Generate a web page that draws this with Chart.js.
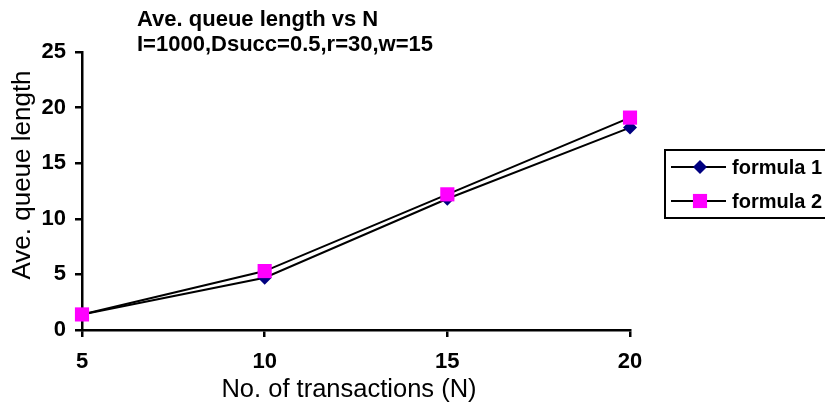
<!DOCTYPE html>
<html>
<head>
<meta charset="utf-8">
<script src="https://cdn.jsdelivr.net/npm/chart.js@4"></script>
<style>
  html, body { margin: 0; padding: 0; background: #fff; }
  #wrap { width: 825px; height: 405px; position: relative; }
</style>
</head>
<body>
<div id="wrap"><canvas id="c" width="825" height="405"></canvas></div>
<script>
const categories = [5, 10, 15, 20];
const formula1 = [1.4, 4.7, 11.8, 18.2];
const formula2 = [1.4, 5.3, 12.2, 19.1];
const seriesNames = ['formula 1', 'formula 2'];
const titleLines = ['Ave. queue length vs N', 'I=1000,Dsucc=0.5,r=30,w=15'];
const xTitle = 'No. of transactions (N)';
const yTitle = 'Ave. queue length';

const FONT = '"Liberation Sans", Arial, Helvetica, sans-serif';

const textPlugin = {
  id: 'texts',
  afterDraw(chart) {
    const ctx = chart.ctx;
    ctx.save();
    ctx.fillStyle = '#000';
    // main title
    ctx.font = 'bold 22px ' + FONT;
    ctx.textAlign = 'left';
    ctx.textBaseline = 'middle';
    ctx.fillText(titleLines[0], 137, 20);
    ctx.fillText(titleLines[1], 137, 45);
    // x title
    ctx.font = '25.5px ' + FONT;
    ctx.textAlign = 'center';
    ctx.fillText(xTitle, 349, 390);
    // y title
    ctx.save();
    ctx.font = '26px ' + FONT;
    ctx.translate(23, 175);
    ctx.rotate(-Math.PI / 2);
    ctx.fillText(yTitle, 0, 0);
    ctx.restore();
    // legend
    const lx = 665, ly = 150, lw = 200, lh = 68;
    ctx.lineWidth = 2;
    ctx.strokeStyle = '#000';
    ctx.strokeRect(lx, ly, lw, lh);
    const rows = [167, 201];
    chart.data.datasets.forEach((ds, i) => {
      const y = rows[i];
      ctx.beginPath();
      ctx.moveTo(671, y);
      ctx.lineTo(726, y);
      ctx.lineWidth = 2;
      ctx.strokeStyle = ds.borderColor;
      ctx.stroke();
      ctx.fillStyle = ds.pointBackgroundColor;
      ctx.strokeStyle = ds.pointBorderColor;
      Chart.helpers.drawPoint(ctx, {
        pointStyle: ds.pointStyle,
        rotation: 0,
        borderWidth: 0,
        radius: ds.pointRadius
      }, 700, y);
      ctx.fillStyle = '#000';
      ctx.font = 'bold 20px ' + FONT;
      ctx.textAlign = 'left';
      ctx.textBaseline = 'middle';
      ctx.fillText(seriesNames[i], 732, y + 1);
    });
    ctx.restore();
  }
};

const tickFont = { family: FONT, size: 22, weight: 'bold' };

new Chart(document.getElementById('c'), {
  type: 'line',
  data: {
    datasets: [
      {
        label: seriesNames[0],
        data: categories.map((x, i) => ({ x: x, y: formula1[i] })),
        borderColor: '#000000',
        borderWidth: 2,
        pointStyle: 'rectRot',
        pointRadius: 7,
        pointHoverRadius: 7,
        pointBackgroundColor: '#000080',
        pointBorderColor: '#000080',
        pointBorderWidth: 0,
        tension: 0,
        clip: false,
        order: 2
      },
      {
        label: seriesNames[1],
        data: categories.map((x, i) => ({ x: x, y: formula2[i] })),
        borderColor: '#000000',
        borderWidth: 2,
        pointStyle: 'rect',
        pointRadius: 10,
        pointHoverRadius: 10,
        pointBackgroundColor: '#FF00FF',
        pointBorderColor: '#FF00FF',
        pointBorderWidth: 0,
        tension: 0,
        clip: false,
        order: 1
      }
    ]
  },
  options: {
    responsive: false,
    animation: false,
    events: [],
    font: tickFont,
    layout: { padding: { left: 0, right: 195, top: 52, bottom: 0 } },
    plugins: {
      legend: { display: false },
      title: { display: false },
      tooltip: { enabled: false }
    },
    scales: {
      x: {
        type: 'linear',
        min: 5,
        max: 20,
        afterFit(s) { s.height = 75; },
        ticks: {
          stepSize: 5,
          color: '#000',
          font: tickFont,
          padding: 12,
          maxRotation: 0
        },
        grid: {
          display: true,
          drawOnChartArea: false,
          drawTicks: true,
          tickLength: 7,
          color: '#000',
          lineWidth: 2.5
        },
        border: { display: true, color: '#000', width: 2.5 }
      },
      y: {
        type: 'linear',
        min: 0,
        max: 25,
        afterFit(s) { s.width = 82; },
        ticks: {
          stepSize: 5,
          color: '#000',
          font: tickFont,
          padding: 9
        },
        grid: {
          display: true,
          drawOnChartArea: false,
          drawTicks: true,
          tickLength: 7,
          color: '#000',
          lineWidth: 2.5
        },
        border: { display: true, color: '#000', width: 2.5 }
      }
    }
  },
  plugins: [textPlugin]
});
</script>
</body>
</html>
